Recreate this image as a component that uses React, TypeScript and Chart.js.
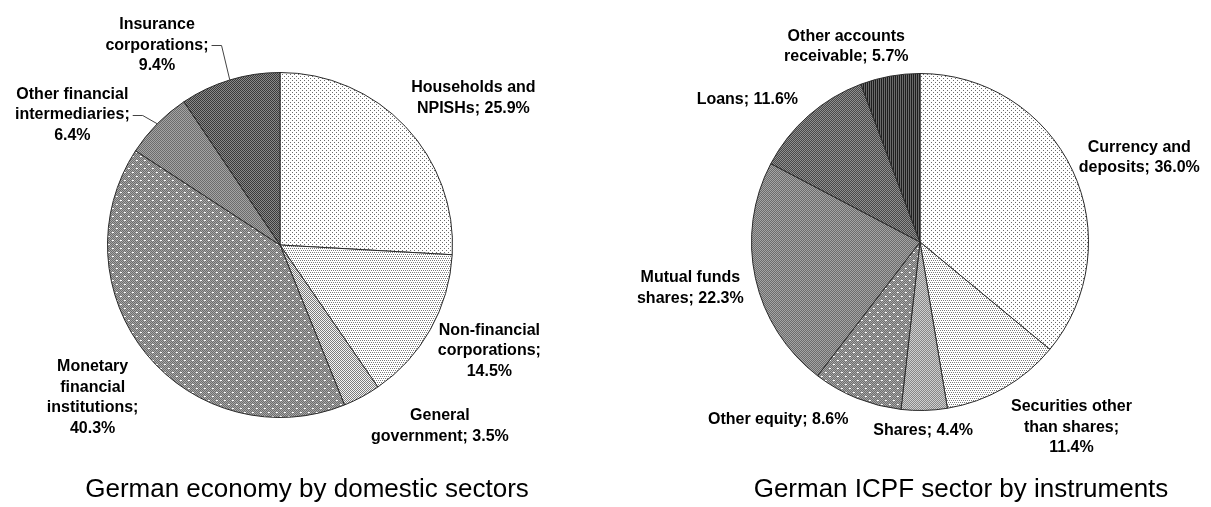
import React, { useEffect, useRef } from "react";
import { Chart, registerables } from "chart.js";

Chart.register(...registerables);

// ---- data ----
const sectorLabels = [
  "Households and\nNPISHs",
  "Non-financial\ncorporations",
  "General\ngovernment",
  "Monetary\nfinancial\ninstitutions",
  "Other financial\nintermediaries",
  "Insurance\ncorporations",
];
const sectorValues = [25.9, 14.5, 3.5, 40.3, 6.4, 9.4];

const instrumentLabels = [
  "Currency and\ndeposits",
  "Securities other\nthan shares",
  "Shares",
  "Other equity",
  "Mutual funds\nshares",
  "Loans",
  "Other accounts\nreceivable",
];
const instrumentValues = [36.0, 11.4, 4.4, 8.6, 22.3, 11.6, 5.7];

const sectorTitle = "German economy by domestic sectors";
const instrumentTitle = "German ICPF sector by instruments";

// ---- patterns ----
type Px = [number, number, string];
function makePattern(w: number, h: number, bg: string, px: Px[], checker?: [string, string]) {
  const c = document.createElement("canvas");
  c.width = w;
  c.height = h;
  const g = c.getContext("2d")!;
  g.fillStyle = bg;
  g.fillRect(0, 0, w, h);
  if (checker) {
    for (let yy = 0; yy < h; yy++)
      for (let xx = 0; xx < w; xx++) {
        g.fillStyle = (xx + yy) % 2 === 0 ? checker[0] : checker[1];
        g.fillRect(xx, yy, 1, 1);
      }
  }
  px.forEach(([x, y, col]) => {
    g.fillStyle = col;
    g.fillRect(x, y, 1, 1);
  });
  const tmp = document.createElement("canvas").getContext("2d")!;
  return tmp.createPattern(c, "repeat")!;
}

function patterns() {
  const sparse = makePattern(4, 4, "#ffffff", [
    [0, 0, "#6a6a6a"],
    [2, 2, "#6a6a6a"],
  ]);
  const dense = makePattern(4, 4, "#ffffff", [
    [0, 0, "#7a7a7a"],
    [2, 0, "#7a7a7a"],
    [1, 2, "#7a7a7a"],
    [3, 2, "#7a7a7a"],
  ]);
  const light = makePattern(2, 2, "#f4f4f4", [], ["#7c7c7c", "#f4f4f4"]);
  const midLight = makePattern(2, 2, "#cccccc", [], ["#888888", "#d0d0d0"]);
  const dotted = makePattern(8, 8, "#999999", [
    [0, 0, "#ffffff"],
    [1, 0, "#ffffff"],
    [4, 4, "#ffffff"],
    [5, 4, "#ffffff"],
  ], ["#6e6e6e", "#a6a6a6"]);
  const mid = makePattern(2, 2, "#888888", [], ["#6c6c6c", "#a4a4a4"]);
  const dark = makePattern(2, 2, "#606060", [], ["#3a3a3a", "#8a8a8a"]);
  const darker = makePattern(2, 2, "#6a6a6a", [], ["#484848", "#8e8e8e"]);
  const stripes = makePattern(2, 1, "#444444", [
    [0, 0, "#1e1e1e"],
    [1, 0, "#6a6a6a"],
  ]);
  return { sparse, dense, light, midLight, dotted, mid, dark, darker, stripes };
}

// ---- label plugin ----
type LabelCfg = {
  nudge: number[];
  dist: number[];
  valueLine: boolean[];
  leader: boolean[];
  title: string;
  titleDx: number;
  titleY: number;
};

const LABEL_FONT = 'bold 16px "Liberation Sans", Arial, sans-serif';
const TITLE_FONT = '26px "Liberation Sans", Arial, sans-serif';
const LINE_H = 20.5;

function makeLabelPlugin(cfg: LabelCfg) {
  return {
    id: "pieLabels",
    afterDraw(chart: any) {
      const ctx: CanvasRenderingContext2D = chart.ctx;
      const meta = chart.getDatasetMeta(0);
      const labels = chart.data.labels as string[];
      const values = chart.data.datasets[0].data as number[];
      ctx.save();
      ctx.fillStyle = "#000";
      ctx.textAlign = "center";
      ctx.textBaseline = "middle";
      ctx.font = LABEL_FONT;
      meta.data.forEach((arc: any, i: number) => {
        const { x, y, startAngle, endAngle, outerRadius } = arc.getProps(
          ["x", "y", "startAngle", "endAngle", "outerRadius"],
          true
        );
        const mid = (startAngle + endAngle) / 2;
        const a = mid + (cfg.nudge[i] * Math.PI) / 180;
        const d = outerRadius * cfg.dist[i];
        const cx = x + Math.cos(a) * d;
        const cy = y + Math.sin(a) * d;
        const lines = labels[i].split("\n");
        const pct = values[i].toFixed(1) + "%";
        let semiLine: number;
        if (cfg.valueLine[i]) {
          lines[lines.length - 1] += ";";
          semiLine = lines.length - 1;
          lines.push(pct);
        } else {
          lines[lines.length - 1] += "; " + pct;
          semiLine = lines.length - 1;
        }
        const top = cy - ((lines.length - 1) * LINE_H) / 2;
        lines.forEach((ln, k) => ctx.fillText(ln, cx, top + k * LINE_H));
        if (cfg.leader[i]) {
          const w = ctx.measureText(lines[semiLine]).width;
          const ly = Math.round(top + semiLine * LINE_H) + 0.5;
          const sx = cx + w / 2 + 3;
          const ex = x + Math.cos(mid) * outerRadius;
          const ey = y + Math.sin(mid) * outerRadius;
          ctx.strokeStyle = "#444";
          ctx.lineWidth = 1;
          ctx.beginPath();
          ctx.moveTo(sx, ly);
          ctx.lineTo(sx + 10, ly);
          ctx.lineTo(ex, ey);
          ctx.stroke();
        }
      });
      ctx.font = TITLE_FONT;
      ctx.fillText(cfg.title, meta.data[0].x + cfg.titleDx, cfg.titleY);
      ctx.restore();
    },
  };
}

function PieCanvas(props: {
  labels: string[];
  values: number[];
  colors: (p: ReturnType<typeof patterns>) => CanvasPattern[];
  padding: { left: number; right: number; top: number; bottom: number };
  cfg: LabelCfg;
  left: number;
}) {
  const ref = useRef<HTMLCanvasElement>(null);
  useEffect(() => {
    const p = patterns();
    const chart = new Chart(ref.current!, {
      type: "pie",
      data: {
        labels: props.labels,
        datasets: [
          {
            data: props.values,
            backgroundColor: props.colors(p),
            borderColor: "#2a2a2a",
            borderWidth: 1,
          },
        ],
      },
      options: {
        animation: false,
        responsive: false,
        maintainAspectRatio: false,
        layout: { padding: props.padding },
        plugins: {
          legend: { display: false },
          tooltip: { enabled: false },
          title: { display: false },
        },
      },
      plugins: [makeLabelPlugin(props.cfg)],
    });
    return () => chart.destroy();
  }, []);
  return (
    <canvas
      ref={ref}
      width={606}
      height={507}
      style={{ position: "absolute", left: props.left, top: 0, width: 606, height: 507, display: "block" }}
    />
  );
}

export default function App() {
  return (
    <div
      style={{
        position: "fixed",
        left: 0,
        top: 0,
        width: 1211,
        height: 507,
        background: "#ffffff",
        overflow: "hidden",
      }}
    >
      <PieCanvas
        left={0}
        labels={sectorLabels}
        values={sectorValues}
        colors={(p) => [p.sparse, p.dense, p.light, p.dotted, p.mid, p.dark]}
        padding={{ left: 107, right: 153, top: 72, bottom: 89 }}
        cfg={{
          nudge: [6.2, -2.5, -13.2, 0.3, -12.6, -14.7],
          dist: [1.407, 1.36, 1.4, 1.4, 1.42, 1.36],
          valueLine: [false, true, false, true, true, true],
          leader: [false, false, false, false, true, true],
          title: sectorTitle,
          titleDx: 27,
          titleY: 490,
        }}
      />
      <PieCanvas
        left={605}
        labels={instrumentLabels}
        values={instrumentValues}
        colors={(p) => [p.sparse, p.dense, p.midLight, p.dotted, p.mid, p.darker, p.stripes]}
        padding={{ left: 146, right: 122, top: 73, bottom: 96 }}
        cfg={{
          nudge: [4.1, -9.4, 0.5, 16.6, 1.1, -9, -10.4],
          dist: [1.395, 1.42, 1.12, 1.35, 1.39, 1.33, 1.24],
          valueLine: [false, true, false, false, false, false, false],
          leader: [false, false, false, false, false, false, false],
          title: instrumentTitle,
          titleDx: 41,
          titleY: 490,
        }}
      />
    </div>
  );
}
